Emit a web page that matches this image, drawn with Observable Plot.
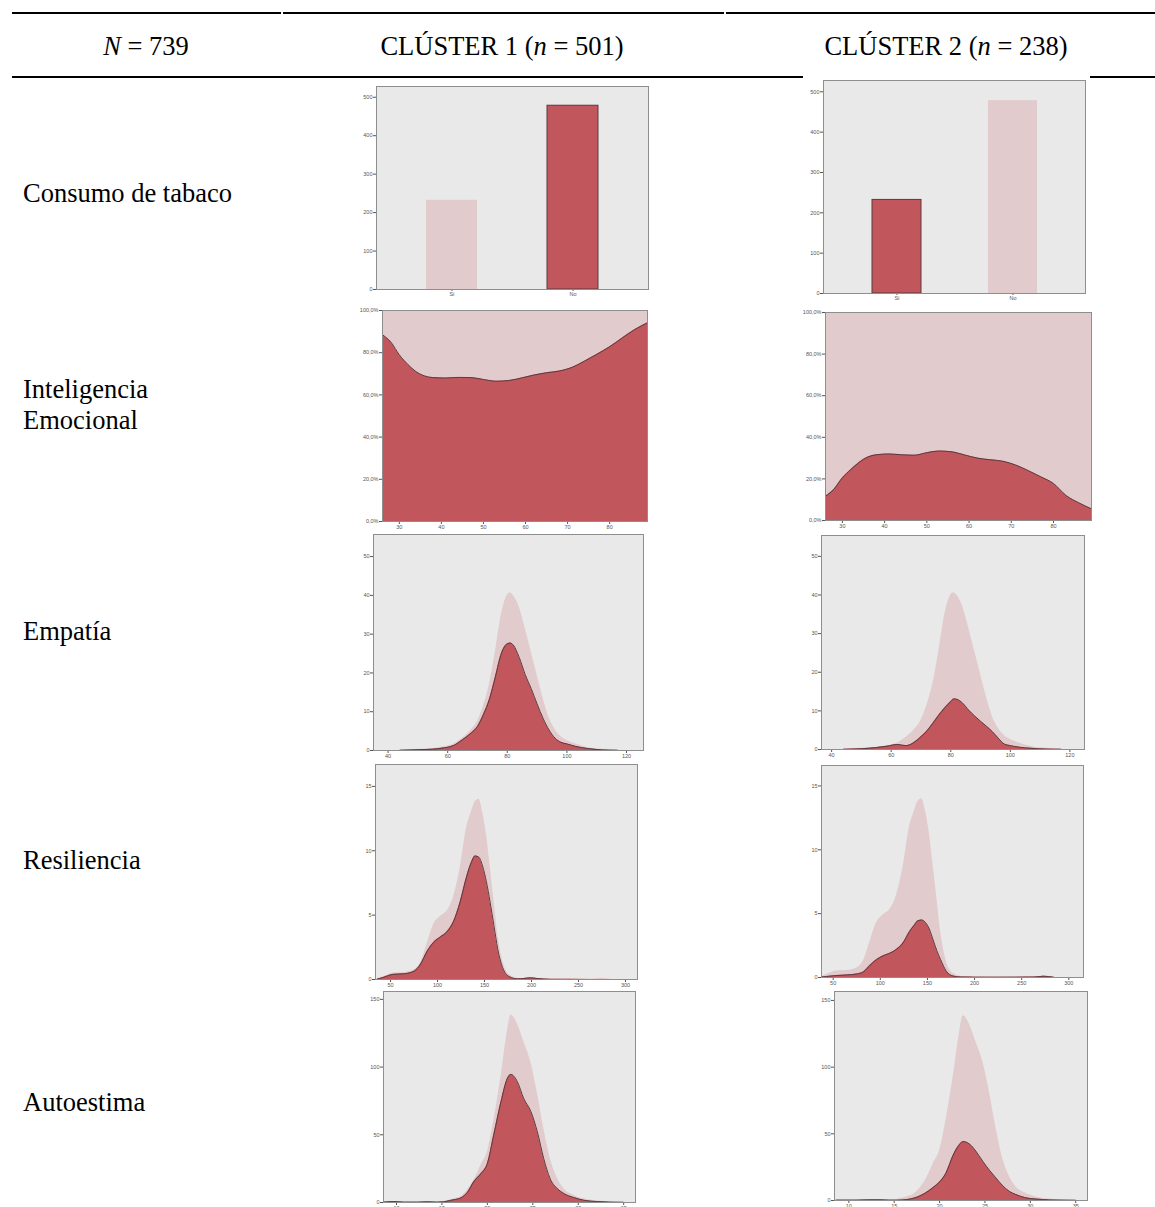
<!DOCTYPE html>
<html>
<head>
<meta charset="utf-8">
<script src="https://cdn.jsdelivr.net/npm/d3@7"></script>
<script src="https://cdn.jsdelivr.net/npm/@observablehq/plot@0.6"></script>
<style>
  body { margin: 0; background: #fff; }
  #page { position: relative; width: 1155px; height: 1207px; overflow: hidden;
          font-family: "Liberation Serif", "Times New Roman", serif; color: #000; }
  .t { position: absolute; font-size: 26.5px; line-height: 26px; white-space: nowrap; }
  .c { transform: translateX(-50%); }
  .rule { position: absolute; background: #000; }
  svg.chart { position: absolute; }
</style>
</head>
<body>
<div id="page"></div>
<script>
// ---------------- DATA ----------------
const headers = ["N = 739", "CLÚSTER 1 (n = 501)", "CLÚSTER 2 (n = 238)"];
const rowLabels = ["Consumo de tabaco", "Inteligencia\nEmocional", "Empatía", "Resiliencia", "Autoestima"];

// Consumo de tabaco (counts)
const tabacoCats = ["Sí", "No"];
const tabacoCounts = [232, 478];
const tabacoTicks = [0, 100, 200, 300, 400, 500];

// Inteligencia Emocional (% in cluster, conditional density)
const ieX  = [26, 28, 30, 32, 34, 36, 38, 41, 44, 47, 50, 53, 56, 59, 62, 65, 68, 71, 74, 77, 80, 83, 86, 89];
const ieC1 = [88.5, 85, 79, 74.5, 71, 69, 68.2, 68, 68.3, 68.2, 67.3, 66.5, 66.8, 68, 69.4, 70.5, 71.3, 73, 76, 79.3, 82.8, 87, 91, 94.2];
const ieC2 = [11.7, 15, 20.5, 24.5, 28, 30.5, 31.6, 32, 31.6, 31.4, 32.6, 33.4, 33, 31.5, 30, 29.2, 28.5, 26.7, 24, 21, 17.8, 12, 8.5, 5.6];
const ieXTicks = [30, 40, 50, 60, 70, 80];
const ieYTicks = [0, 20, 40, 60, 80, 100];

// Empatía (density counts)
const empX     = [44, 50, 55, 59, 62, 65, 68, 70, 72, 74, 76, 78, 80, 81, 82, 84, 86, 88, 90, 92, 94, 96, 98, 100, 103, 107, 112, 117];
const empTotal = [0.1, 0.3, 0.5, 1.0, 1.7, 3.2, 5.4, 7.5, 11.5, 17, 25.5, 35, 40, 40.6, 40, 37, 31.5, 25.5, 19.5, 13.5, 8.5, 5.5, 3.6, 2.6, 1.7, 0.8, 0.3, 0.1];
const empC1    = [0.05, 0.2, 0.35, 0.7, 1.3, 2.8, 4.6, 6.2, 9.3, 13.2, 19, 25, 27.5, 27.7, 27.2, 24, 19.6, 16, 12, 8.3, 5.3, 3.2, 2.1, 1.7, 1.05, 0.5, 0.15, 0.05];
const empC2    = [0.05, 0.2, 0.5, 0.9, 1.3, 1.0, 2.0, 3.3, 4.8, 6.8, 8.9, 10.8, 12.4, 13.1, 13, 12, 10.2, 8.7, 7.3, 6, 4.6, 2.9, 1.4, 1, 0.6, 0.3, 0.1, 0.05];
const empXTicks = [40, 60, 80, 100, 120];
const empYTicks = [0, 10, 20, 30, 40, 50];

// Resiliencia (density counts)
const resX     = [36, 43, 53, 64, 75, 82, 89, 96, 103, 110, 117, 124, 131, 136, 140, 144, 148, 152, 156, 160, 164, 170, 177, 185, 192, 199, 206, 220, 262, 273, 284];
const resTotal = [0.05, 0.23, 0.5, 0.54, 0.75, 1.3, 2.8, 4.3, 4.9, 5.3, 6.4, 8.6, 11.8, 13, 13.8, 14, 13, 11.3, 8.8, 6.2, 3.6, 1.3, 0.35, 0.1, 0.05, 0.08, 0.05, 0.02, 0.03, 0.1, 0.02];
const resC1    = [0.03, 0.18, 0.4, 0.44, 0.64, 1.2, 2.2, 2.9, 3.3, 3.7, 4.5, 6, 8, 9.1, 9.6, 9.5, 8.8, 7.6, 6, 4.2, 2.4, 0.8, 0.2, 0.05, 0.08, 0.13, 0.08, 0.01, 0, 0, 0];
const resC2    = [0.03, 0.08, 0.15, 0.2, 0.28, 0.44, 0.95, 1.4, 1.7, 1.9, 2.2, 2.7, 3.6, 4.1, 4.45, 4.5, 4.3, 3.8, 2.95, 2.1, 1.4, 0.5, 0.12, 0.04, 0.03, 0.02, 0.02, 0.02, 0.03, 0.1, 0.02];
const resXTicks = [50, 100, 150, 200, 250, 300];
const resYTicks = [0, 5, 10, 15];

// Autoestima (density counts)
const autX     = [8.6, 9.7, 10.8, 12.3, 13.4, 14.5, 15.2, 15.9, 16.5, 17.1, 17.8, 18.5, 19.3, 20, 20.7, 21.5, 22.2, 22.6, 23.3, 24, 24.8, 25.5, 26.2, 26.9, 27.7, 28.4, 29.5, 30.6, 32.1, 33.5, 35];
const autTotal = [0.5, 0.8, 0.5, 0.4, 0.6, 0.4, 0.7, 1.8, 3, 4.5, 9, 16, 27.6, 37.4, 60, 93, 126, 138.5, 132, 119, 103, 81, 55, 33, 18, 10.3, 5.4, 2.7, 1.2, 0.5, 0.25];
const autC1    = [0.25, 0.7, 0.25, 0.25, 0.5, 0.25, 0.5, 1.5, 2.3, 3.4, 7.4, 15.3, 21.4, 28.8, 49.8, 74.4, 91.6, 94.6, 89.2, 76.8, 67, 52.2, 32.5, 17.7, 10.3, 6.7, 3.7, 1.7, 0.7, 0.25, 0.1];
const autC2    = [0.25, 0.25, 0.25, 0.5, 0.5, 0.25, 0.25, 0.4, 0.8, 1.6, 3.3, 5.9, 9.8, 13.9, 20.5, 34, 42, 44.2, 42.3, 37, 29, 22.7, 17, 11.5, 6.8, 4.5, 2, 1.1, 0.45, 0.25, 0.1];
const autXTicks = [10, 15, 20, 25, 30, 35];
const autYTicks = [0, 50, 100, 150];

// ---------------- STYLE ----------------
const DARK = "#c1575c", LIGHT = "#e2cbcd", BG = "#e9e9e9", FRAME = "#8e8e8e", OUTLINE = "#5a3b3d";
const M = {top: 4, right: 6, bottom: 16, left: 30};
const page = document.getElementById("page");

function addText(txt, x, y, center) {
  const d = document.createElement("div");
  d.className = "t" + (center ? " c" : "");
  d.style.left = x + "px"; d.style.top = y + "px";
  d.innerHTML = txt;
  page.appendChild(d);
}
function addRule(x1, x2, y, h) {
  const d = document.createElement("div");
  d.className = "rule";
  d.style.left = x1 + "px"; d.style.width = (x2 - x1) + "px";
  d.style.top = y + "px"; d.style.height = h + "px";
  page.appendChild(d);
}
function place(svg, f) {
  svg.classList.add("chart");
  svg.style.left = (f.l - M.left) + "px";
  svg.style.top = (f.t - M.top) + "px";
  page.appendChild(svg);
}
const baseStyle = {background: "transparent", overflow: "visible", fontSize: "5.5px",
  fontFamily: "Liberation Sans, Arial, sans-serif", color: "#555"};

function dims(f) {
  return {width: (f.r - f.l) + M.left + M.right, height: (f.b - f.t) + M.top + M.bottom,
    marginTop: M.top, marginRight: M.right, marginBottom: M.bottom, marginLeft: M.left};
}

function barChart(f, highlight) {
  const rows = tabacoCats.map((c, i) => ({cat: c, n: tabacoCounts[i]}));
  return Plot.plot({
    ...dims(f), style: baseStyle,
    x: {domain: tabacoCats, paddingInner: 0.58, paddingOuter: 0.41, tickSize: 2, tickPadding: 1, label: null},
    y: {domain: [0, 528], ticks: tabacoTicks, tickSize: 3, tickPadding: 1, label: null},
    marks: [
      Plot.frame({fill: BG}),
      Plot.barY(rows.filter(d => d.cat !== highlight), {x: "cat", y: "n", fill: LIGHT}),
      Plot.barY(rows.filter(d => d.cat === highlight), {x: "cat", y: "n", fill: DARK, stroke: OUTLINE, strokeWidth: 1}),
      Plot.frame({stroke: FRAME})
    ]
  });
}

function ieChart(f, vals) {
  const rows = ieX.map((x, i) => ({x, v: vals[i]}));
  return Plot.plot({
    ...dims(f), style: baseStyle,
    x: {domain: [26, 89], ticks: ieXTicks, tickSize: 3, tickPadding: 1, label: null},
    y: {domain: [0, 100], ticks: ieYTicks, tickSize: 3, tickPadding: 1, label: null,
        tickFormat: d => d.toFixed(1).replace(".", ",") + "%"},
    marks: [
      Plot.areaY(rows, {x: "x", y1: "v", y2: 100, fill: LIGHT, curve: "monotone-x", clip: true}),
      Plot.areaY(rows, {x: "x", y1: 0, y2: "v", fill: DARK, curve: "monotone-x", clip: true}),
      Plot.lineY(rows, {x: "x", y: "v", stroke: OUTLINE, strokeWidth: 1, curve: "monotone-x", clip: true}),
      Plot.frame({stroke: FRAME})
    ]
  });
}

function densChart(f, xDomain, yDomain, xTicks, yTicks, xs, total, cl) {
  const rows = xs.map((x, i) => ({x, total: total[i], cl: cl[i]}));
  return Plot.plot({
    ...dims(f), style: baseStyle,
    x: {domain: xDomain, ticks: xTicks, tickSize: 3, tickPadding: 1, label: null},
    y: {domain: yDomain, ticks: yTicks, tickSize: 3, tickPadding: 1, label: null},
    marks: [
      Plot.frame({fill: BG}),
      Plot.areaY(rows, {x: "x", y: "total", fill: LIGHT, curve: "monotone-x", clip: true}),
      Plot.areaY(rows, {x: "x", y: "cl", fill: DARK, curve: "monotone-x", clip: true}),
      Plot.lineY(rows, {x: "x", y: "cl", stroke: OUTLINE, strokeWidth: 1, curve: "monotone-x", clip: true}),
      Plot.frame({stroke: FRAME})
    ]
  });
}

// ---------------- TABLE ----------------
addRule(12, 281, 12, 1.5); addRule(283, 724, 12, 1.5); addRule(726, 1155, 12, 1.5);
addRule(12, 803, 76, 2); addRule(1090, 1155, 76, 2);

addText("<i>N</i> = 739", 146, 33, true);
addText("CLÚSTER 1 (<i>n</i> = 501)", 502, 33, true);
addText("CLÚSTER 2 (<i>n</i> = 238)", 946, 33, true);

addText(rowLabels[0], 23, 180);
const ie = rowLabels[1].split("\n");
addText(ie[0], 23, 376); addText(ie[1], 23, 407);
addText(rowLabels[2], 23, 618);
addText(rowLabels[3], 23, 847);
addText(rowLabels[4], 23, 1089);

// ---------------- CHARTS ----------------
let f;
f = {l: 376, t: 86, r: 648, b: 289}; place(barChart(f, "No"), f);
f = {l: 823, t: 80, r: 1085, b: 293}; place(barChart(f, "Sí"), f);

f = {l: 382, t: 310, r: 647, b: 521}; place(ieChart(f, ieC1), f);
f = {l: 825, t: 312, r: 1091, b: 520}; place(ieChart(f, ieC2), f);

f = {l: 373, t: 534, r: 643, b: 750}; place(densChart(f, [35.1, 125.7], [0, 55.7], empXTicks, empYTicks, empX, empTotal, empC1), f);
f = {l: 821, t: 535, r: 1084, b: 749}; place(densChart(f, [36.6, 124.9], [0, 55.4], empXTicks, empYTicks, empX, empTotal, empC2), f);

f = {l: 375, t: 764, r: 637, b: 979}; place(densChart(f, [34, 312.8], [0, 16.7], resXTicks, resYTicks, resX, resTotal, resC1), f);
f = {l: 821, t: 765, r: 1083, b: 977}; place(densChart(f, [37.6, 315.6], [0, 16.6], resXTicks, resYTicks, resX, resTotal, resC2), f);

f = {l: 383, t: 991, r: 635, b: 1202}; place(densChart(f, [8.57, 36.3], [0, 155.8], autXTicks, autYTicks, autX, autTotal, autC1), f);
f = {l: 834, t: 991, r: 1087, b: 1200}; place(densChart(f, [8.42, 36.3], [0, 156.7], autXTicks, autYTicks, autX, autTotal, autC2), f);
</script>
</body>
</html>
